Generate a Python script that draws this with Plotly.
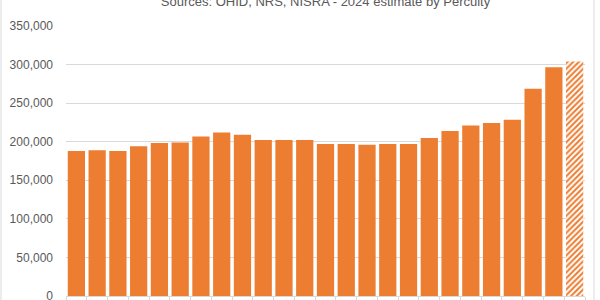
import plotly.graph_objects as go

years = [str(y) for y in range(2000, 2025)]
values = [188000, 188800, 188000, 194000, 198300, 199100, 206900, 212100, 209000,
          202100, 202100, 202100, 197000, 197000, 196100, 197000, 197000, 204700,
          213800, 221100, 224100, 228400, 268600, 296500, 304000]
is_estimate = [False] * 24 + [True]

ORANGE = "#ED7D31"
GRID = "#D9D9D9"
TEXT = "#595959"

fig = go.Figure()
fig.add_trace(go.Bar(
    x=years,
    y=values,
    marker=dict(
        color=ORANGE,
        line=dict(width=0),
        pattern=dict(
            shape=["/" if e else "" for e in is_estimate],
            fgcolor=ORANGE,
            bgcolor="white",
            fillmode="replace",
            size=4,
            solidity=0.5,
        ),
    ),
    hoverinfo="x+y",
))

W, H = 600, 300
ml, mr, mt, mb = 66, 15, 26, 4
pw = W - ml - mr

fig.update_layout(
    width=W, height=H,
    margin=dict(l=ml, r=mr, t=mt, b=mb),
    paper_bgcolor="white",
    plot_bgcolor="white",
    bargap=0.17,
    showlegend=False,
    font=dict(family="Liberation Sans, Arial, sans-serif", color=TEXT, size=12),
    title=dict(
        text="Sources: OHID, NRS, NISRA - 2024 estimate by Percuity",
        x=0.5, xanchor="center", xref="paper",
        y=0.995, yanchor="middle", yref="container",
        font=dict(size=13, color=TEXT),
    ),
    xaxis=dict(
        type="category",
        automargin=False,
        showticklabels=False,
        showgrid=False,
        showline=True,
        linecolor=GRID,
        linewidth=1,
        ticks="outside",
        ticklen=4,
        tickcolor=GRID,
        tickson="boundaries",
    ),
    yaxis=dict(
        automargin=False,
        range=[0, 350000],
        tickvals=[0, 50000, 100000, 150000, 200000, 250000, 300000, 350000],
        ticktext=["0", "50,000", "100,000", "150,000", "200,000", "250,000", "300,000", "350,000"],
        showgrid=True,
        gridcolor=GRID,
        gridwidth=1,
        zeroline=False,
        ticks="",
        ticklabelstandoff=12,
        ticklabeloverflow="allow",
        tickfont=dict(size=12, color=TEXT),
    ),
    shapes=[
        dict(type="line", xref="paper", yref="paper",
             x0=(1 - ml) / pw, x1=(1 - ml) / pw,
             y0=-mb / (H - mt - mb), y1=(H - mb) / (H - mt - mb),
             line=dict(color=GRID, width=1)),
        dict(type="line", xref="paper", yref="paper",
             x0=(594 - ml) / pw, x1=(594 - ml) / pw,
             y0=-mb / (H - mt - mb), y1=(H - mb) / (H - mt - mb),
             line=dict(color=GRID, width=1)),
    ],
)

fig.write_html("out.html")
